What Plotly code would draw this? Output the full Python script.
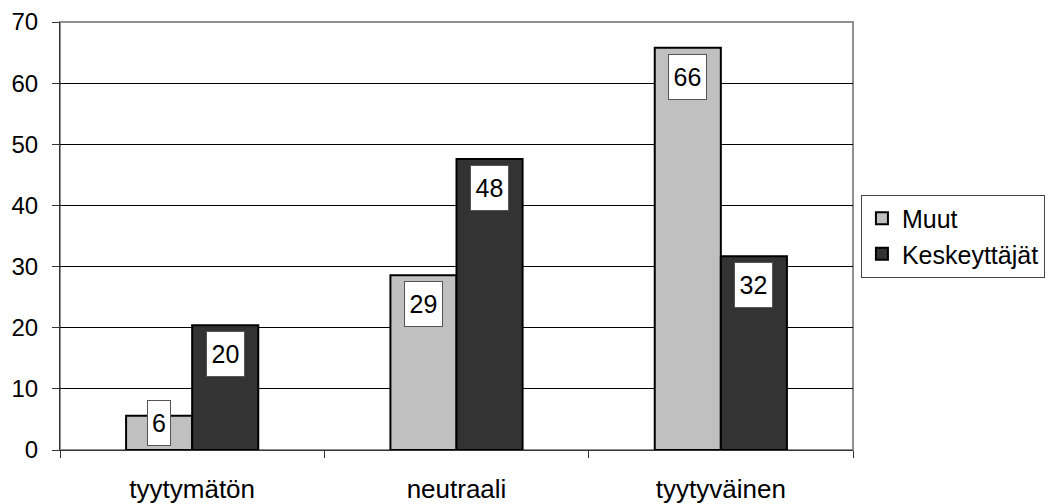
import plotly.graph_objects as go

categories = ["tyytymätön", "neutraali", "tyytyväinen"]
muut = [5.6, 28.6, 65.8]
keskeyttajat = [20.4, 47.6, 31.7]
series_names = ["Muut", "Keskeyttäjät"]
y_ticks = [0, 10, 20, 30, 40, 50, 60, 70]

FONT = "Liberation Sans, Arial, sans-serif"
FS = 26

fig = go.Figure()
fig.add_trace(go.Bar(x=categories, y=muut, name=series_names[0],
                     marker=dict(color="#c0c0c0", line=dict(color="#000000", width=2))))
fig.add_trace(go.Bar(x=categories, y=keskeyttajat, name=series_names[1],
                     marker=dict(color="#333333", line=dict(color="#000000", width=2))))

# data labels: white boxes inside bar tops
for si, vals in enumerate([muut, keskeyttajat]):
    off = -0.125 if si == 0 else 0.125
    for ci, v in enumerate(vals):
        txt = str(int(round(v)))
        w = 22 if len(txt) == 1 else 37
        if v < 8.5:
            y, ya, ys = 0, "bottom", 4
        else:
            y, ya, ys = v, "top", -6
        fig.add_annotation(x=ci + off, y=y, xref="x", yref="y", text=txt,
                           showarrow=False, yanchor=ya, yshift=ys,
                           font=dict(family=FONT, size=25, color="#000"),
                           bgcolor="#ffffff", bordercolor="#555555", borderwidth=1,
                           width=w, height=44, borderpad=0)

# plot area border (top and right)
fig.add_shape(type="rect", xref="paper", yref="paper", x0=0, x1=1, y0=0, y1=1,
              line=dict(color="#909090", width=2), layer="below")

fig.update_layout(
    width=1047, height=496,
    margin=dict(l=52, r=202, t=14, b=54, autoexpand=False),
    paper_bgcolor="white", plot_bgcolor="white",
    barmode="group", bargap=0.5, bargroupgap=0,
    font=dict(family=FONT, size=FS, color="#000"),
    showlegend=True,
    legend=dict(x=1.01, y=0.5, xanchor="left", yanchor="middle",
                bordercolor="#444444", borderwidth=1, bgcolor="white",
                font=dict(family=FONT, size=25), itemwidth=30,
                tracegroupgap=0),
    xaxis=dict(showline=True, linecolor="#333333", linewidth=1, automargin=False,
               ticks="outside", ticklen=7, tickcolor="#333333", tickson="boundaries",
               showgrid=False, ticklabelstandoff=16, ticklabeloverflow="allow",
               tickfont=dict(family=FONT, size=FS)),
    yaxis=dict(range=[0, 70], tickvals=y_ticks, showline=True, linecolor="#333333", linewidth=1,
               automargin=False, ticklabeloverflow="allow",
               ticks="outside", ticklen=7, tickcolor="#333333",
               showgrid=True, gridcolor="#000000", gridwidth=1, zeroline=False,
               ticklabelstandoff=9, tickfont=dict(family=FONT, size=24)),
)

fig.write_html("out.html")
